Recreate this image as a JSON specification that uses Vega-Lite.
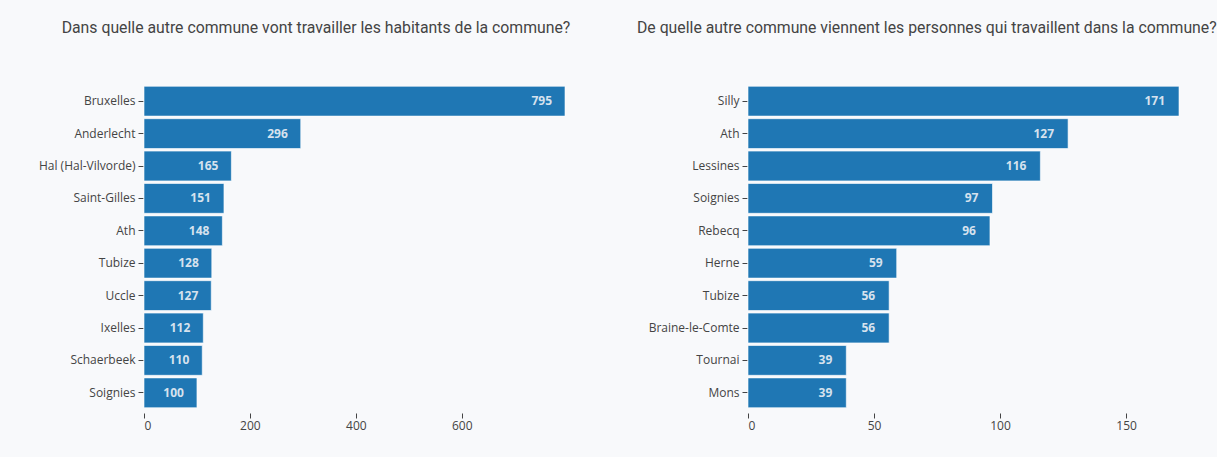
{
  "$schema": "https://vega.github.io/schema/vega-lite/v6.json",
  "background": "#f8f9fb",
  "padding": {"left": 38, "top": 20, "right": 0, "bottom": 33},
  "spacing": 65,
  "config": {
    "view": {"stroke": null},
    "font": "Open Sans",
    "axis": {"labelFont": "Open Sans", "labelFontSize": 12, "labelColor": "#444", "tickColor": "#444", "domain": false, "grid": false, "title": null},
    "title": {"font": "Roboto", "fontSize": 15.8, "fontWeight": "normal", "color": "#444", "offset": 48, "anchor": "middle", "frame": "bounds"}
  },
  "datasets": {
    "out": [
      {"commune": "Bruxelles", "n": 795},
      {"commune": "Anderlecht", "n": 296},
      {"commune": "Hal (Hal-Vilvorde)", "n": 165},
      {"commune": "Saint-Gilles", "n": 151},
      {"commune": "Ath", "n": 148},
      {"commune": "Tubize", "n": 128},
      {"commune": "Uccle", "n": 127},
      {"commune": "Ixelles", "n": 112},
      {"commune": "Schaerbeek", "n": 110},
      {"commune": "Soignies", "n": 100}
    ],
    "in": [
      {"commune": "Silly", "n": 171},
      {"commune": "Ath", "n": 127},
      {"commune": "Lessines", "n": 116},
      {"commune": "Soignies", "n": 97},
      {"commune": "Rebecq", "n": 96},
      {"commune": "Herne", "n": 59},
      {"commune": "Tubize", "n": 56},
      {"commune": "Braine-le-Comte", "n": 56},
      {"commune": "Tournai", "n": 39},
      {"commune": "Mons", "n": 39}
    ]
  },
  "hconcat": [
    {
      "title": {"text": "Dans quelle autre commune vont travailler les habitants de la commune?", "dx": 14},
      "width": 421,
      "height": 324,
      "data": {"name": "out"},
      "encoding": {
        "y": {"field": "commune", "type": "nominal", "sort": null, "scale": {"paddingInner": 0.08, "paddingOuter": 0.04}, "axis": {"ticks": true, "tickSize": 5, "labelPadding": 3, "offset": 1}},
        "x": {"field": "n", "type": "quantitative", "scale": {"domain": [0, 795], "nice": false}, "axis": {"values": [0, 200, 400, 600], "tickSize": 5, "offset": 4, "labelPadding": 2}}
      },
      "layer": [
        {"mark": {"type": "bar", "color": "#1f77b4", "stroke": "#ffffff", "strokeWidth": 1, "strokeOpacity": 0.6}},
        {"mark": {"type": "text", "align": "right", "dx": -13, "fontWeight": "bold", "fontSize": 12, "color": "#d6e2ee"}, "encoding": {"text": {"field": "n", "type": "quantitative"}}}
      ]
    },
    {
      "title": {"text": "De quelle autre commune viennent les personnes qui travaillent dans la commune?", "dx": 13},
      "width": 431,
      "height": 324,
      "data": {"name": "in"},
      "encoding": {
        "y": {"field": "commune", "type": "nominal", "sort": null, "scale": {"paddingInner": 0.08, "paddingOuter": 0.04}, "axis": {"ticks": true, "tickSize": 5, "labelPadding": 3, "offset": 1}},
        "x": {"field": "n", "type": "quantitative", "scale": {"domain": [0, 171], "nice": false}, "axis": {"values": [0, 50, 100, 150], "tickSize": 5, "offset": 4, "labelPadding": 2}}
      },
      "layer": [
        {"mark": {"type": "bar", "color": "#1f77b4", "stroke": "#ffffff", "strokeWidth": 1, "strokeOpacity": 0.6}},
        {"mark": {"type": "text", "align": "right", "dx": -14, "fontWeight": "bold", "fontSize": 12, "color": "#d6e2ee"}, "encoding": {"text": {"field": "n", "type": "quantitative"}}}
      ]
    }
  ]
}
